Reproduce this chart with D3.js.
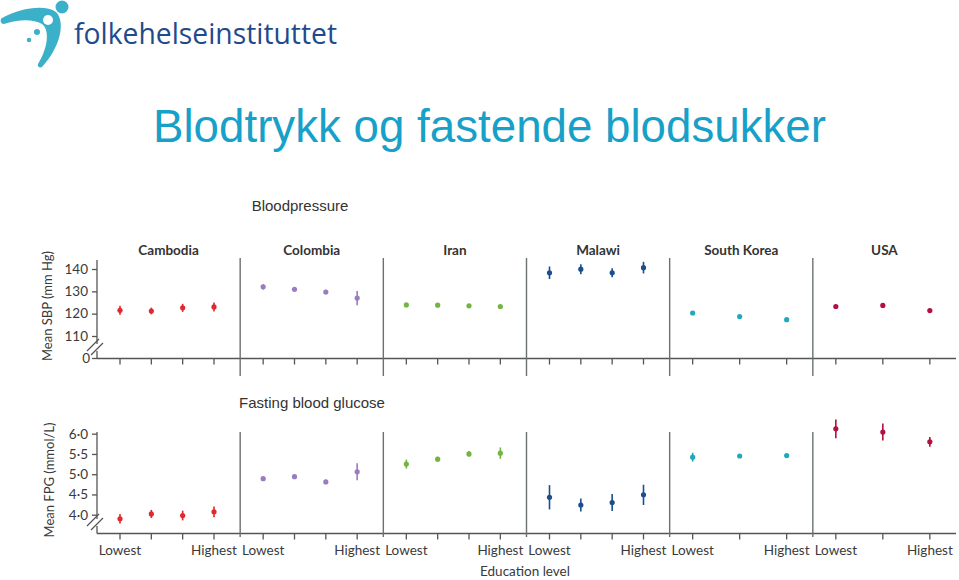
<!DOCTYPE html>
<html><head><meta charset="utf-8">
<script src="https://cdn.jsdelivr.net/npm/d3@7"></script>
<style>body{margin:0;background:#fff}svg{display:block}</style>
</head><body>
<svg id="c" width="959" height="580"></svg>
<script>
const countries = ["Cambodia","Colombia","Iran","Malawi","South Korea","USA"];
const colors = ["#e0282e","#9a7cc0","#74b541","#1b4e8c","#22a9b8","#b3103f"];
const sbpMean = [[121.5,121.2,122.6,123.0],[132.0,130.9,129.7,127.0],[123.9,123.8,123.5,123.2],[138.3,139.9,138.3,140.6],[120.3,118.7,117.3],[123.2,123.7,121.4]];
const sbpErr  = [[2.0,1.5,1.8,2.0],[1.2,0.8,1.0,3.2],[0.4,0.4,0.4,0.4],[2.8,2.2,2.0,2.6],[0.6,0.4,0.4],[0.8,0.8,0.6]];
const fpgMean = [[3.90,4.02,3.98,4.07],[4.89,4.94,4.81,5.06],[5.25,5.37,5.50,5.52],[4.43,4.24,4.30,4.49],[5.42,5.45,5.46],[6.12,6.04,5.80]];
const fpgErr  = [[0.12,0.10,0.12,0.13],[0.05,0.05,0.05,0.21],[0.11,0.06,0.07,0.14],[0.30,0.16,0.21,0.25],[0.11,0.04,0.04],[0.23,0.21,0.12]];
const sbpTicks = [110,120,130,140];
const fpgTicks = [4.0,4.5,5.0,5.5,6.0];
const lowLabel = "Lowest", highLabel = "Highest";

const svg = d3.select("#c");
const axisCol = "#555", textCol = "#3a3a3a";
const tickFont = "Lato, 'Open Sans', sans-serif";

// Logo
const logo = svg.append("g");
logo.append("path")
  .attr("d","M2,18 C20,8 45,4 56,12 C66,22 60,48 42,67 C40,68 37,67 38,64 C48,48 50,30 42,24 C32,18 16,20 4,24 C0,24 0,19 2,18 Z")
  .attr("fill","#3bb0c9");
logo.append("circle").attr("cx",48).attr("cy",20).attr("r",5).attr("fill","#fff");
logo.append("circle").attr("cx",62).attr("cy",7).attr("r",6.5).attr("fill","#3bb0c9");
logo.append("circle").attr("cx",37).attr("cy",32).attr("r",3).attr("fill","#3bb0c9");
logo.append("circle").attr("cx",29).attr("cy",40).attr("r",2.2).attr("fill","#3bb0c9");
logo.append("text").attr("x",74).attr("y",44).text("folkehelseinstituttet")
  .attr("font-family","'Open Sans', sans-serif").attr("font-size",29)
  .attr("textLength",263).attr("lengthAdjust","spacingAndGlyphs")
  .attr("fill","#1f4a8c");

// Title
svg.append("text").attr("x",153).attr("y",142).text("Blodtrykk og fastende blodsukker")
  .attr("font-family","'Liberation Sans', Arial, sans-serif").attr("font-size",45.7)
  .attr("fill","#17a0c8");

// Scales
const xPanel = d3.scaleBand().domain(countries).range([97,956]).padding(0);
function xIn(n){ return d3.scalePoint().domain(d3.range(n)).range([23,117]); }
const ySbp = d3.scaleLinear().domain([110,140]).range([336,269]);
const ySbpZero = 358.5;
const yFpg = d3.scaleLinear().domain([4.0,6.0]).range([514.7,433.7]);
const yFpgBase = 533.5;

// Section titles
svg.append("text").attr("x",300).attr("y",211).attr("text-anchor","middle").text("Bloodpressure")
  .attr("font-family","'Liberation Sans', Arial, sans-serif").attr("font-size",15).attr("fill","#333");
svg.append("text").attr("x",312).attr("y",408).attr("text-anchor","middle").text("Fasting blood glucose")
  .attr("font-family","'Liberation Sans', Arial, sans-serif").attr("font-size",15).attr("fill","#333");

// Country labels
svg.selectAll("text.country").data(countries).join("text").attr("class","country")
  .attr("x",d=>xPanel(d)+xPanel.bandwidth()/2).attr("y",255).attr("text-anchor","middle")
  .attr("font-family",tickFont).attr("font-weight","bold").attr("font-size",13.5).attr("fill","#333")
  .text(d=>d);

function drawPanel(opts){
  const g = svg.append("g");
  const {y, base, top, ticks, fmt, zeroLabel, means, errs, divTop, divBottom, breakY, label, labelY, showLabels} = opts;
  const ax = g.append("g").attr("transform","translate(97,0)")
    .call(d3.axisLeft(y).tickValues(ticks).tickFormat(fmt).tickSize(5).tickSizeOuter(0));
  ax.select(".domain").remove();
  ax.selectAll("line").attr("stroke",axisCol).attr("stroke-width",1.3);
  ax.selectAll("text").attr("font-family",tickFont).attr("font-size",13.5).attr("fill",textCol).attr("dx",-1);
  g.append("line").attr("x1",97).attr("x2",97).attr("y1",top).attr("y2",breakY-4).attr("stroke",axisCol).attr("stroke-width",1.3);
  g.append("line").attr("x1",97).attr("x2",97).attr("y1",breakY+3).attr("y2",base).attr("stroke",axisCol).attr("stroke-width",1.3);
  [-3,1].forEach(o=>{
    g.append("line").attr("x1",90+o).attr("y1",breakY+6+o).attr("x2",102+o).attr("y2",breakY-6+o)
      .attr("stroke",axisCol).attr("stroke-width",1.2);
  });
  if (zeroLabel){
    g.append("line").attr("x1",92).attr("x2",97).attr("y1",base).attr("y2",base).attr("stroke",axisCol).attr("stroke-width",1.3);
    g.append("text").attr("x",90).attr("y",base).attr("dy","0.32em").attr("text-anchor","end").text(zeroLabel)
      .attr("font-family",tickFont).attr("font-size",13.5).attr("fill",textCol);
  }
  g.append("line").attr("x1",97).attr("x2",956).attr("y1",base).attr("y2",base).attr("stroke",axisCol).attr("stroke-width",1.3);
  countries.slice(1).forEach(c=>{
    g.append("line").attr("x1",xPanel(c)).attr("x2",xPanel(c)).attr("y1",divTop).attr("y2",divBottom)
      .attr("stroke","#6b7070").attr("stroke-width",1.4);
  });
  countries.forEach((c,i)=>{
    const n = means[i].length, xs = xIn(n), x0 = xPanel(c);
    const pg = g.append("g").attr("transform",`translate(${x0},0)`);
    d3.range(n).forEach(k=>{
      pg.append("line").attr("x1",xs(k)).attr("x2",xs(k)).attr("y1",base).attr("y2",base+6).attr("stroke",axisCol).attr("stroke-width",1.3);
    });
    if (showLabels){
      pg.append("text").attr("x",xs(0)).attr("y",labelY).attr("text-anchor","middle").text(lowLabel)
        .attr("font-family",tickFont).attr("font-size",13.5).attr("fill",textCol);
      pg.append("text").attr("x",xs(n-1)).attr("y",labelY).attr("text-anchor","middle").text(highLabel)
        .attr("font-family",tickFont).attr("font-size",13.5).attr("fill",textCol);
    }
    means[i].forEach((m,k)=>{
      pg.append("line").attr("x1",xs(k)).attr("x2",xs(k)).attr("y1",y(m-errs[i][k])).attr("y2",y(m+errs[i][k]))
        .attr("stroke",colors[i]).attr("stroke-width",1.6);
      pg.append("circle").attr("cx",xs(k)).attr("cy",y(m)).attr("r",2.6).attr("fill",colors[i]);
    });
  });
  g.append("text").attr("transform",`translate(${opts.yLabelX},${opts.yLabelY}) rotate(-90)`)
    .attr("text-anchor","middle").text(label)
    .attr("font-family",tickFont).attr("font-size",13).attr("fill",textCol);
}

drawPanel({y:ySbp, base:ySbpZero, top:260, ticks:sbpTicks, fmt:d3.format("d"), zeroLabel:"0",
  means:sbpMean, errs:sbpErr, divTop:258, divBottom:376, breakY:348, label:"Mean SBP (mm Hg)",
  yLabelX:52, yLabelY:306, showLabels:false});
drawPanel({y:yFpg, base:yFpgBase, top:432, ticks:fpgTicks, fmt:d=>d3.format(".1f")(d).replace(".","·"), zeroLabel:null,
  means:fpgMean, errs:fpgErr, divTop:432, divBottom:537, breakY:523, label:"Mean FPG (mmol/L)",
  yLabelX:54, yLabelY:480, showLabels:true, labelY:555});

svg.append("text").attr("x",525).attr("y",576).attr("text-anchor","middle").text("Education level")
  .attr("font-family",tickFont).attr("font-size",13.5).attr("fill",textCol);
</script>
</body></html>
